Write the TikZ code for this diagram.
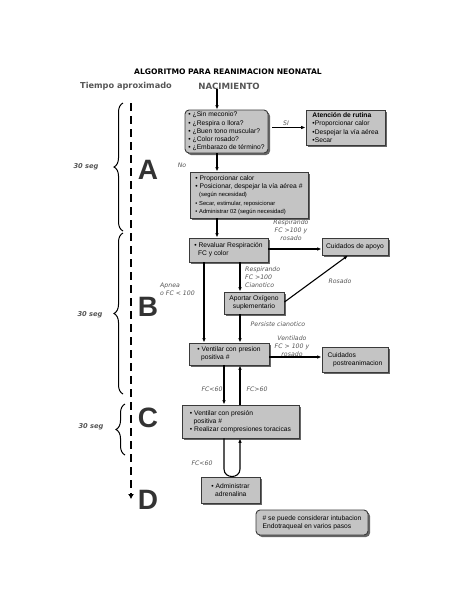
\documentclass[tikz,border=0pt]{standalone}
\usepackage{fontspec}
\setmainfont{Liberation Sans}
\newfontfamily\headfont{DejaVu Sans}
\usetikzlibrary{arrows.meta,shadows,decorations.pathreplacing}
\definecolor{boxgray}{HTML}{C4C4C4}
\definecolor{edgegray}{HTML}{3A3A3A}
\definecolor{textgray}{HTML}{555555}
\begin{document}
\begin{tikzpicture}[x=1pt, y=-1pt,
    every node/.style={font=\fontsize{6.7}{8.2}\selectfont, inner sep=0pt},
    box/.style={draw=edgegray, fill=boxgray, line width=0.9pt, align=left,
      drop shadow={shadow xshift=2pt, shadow yshift=-2pt, fill=black!60, opacity=1}},
    rbox/.style={box, rounded corners=4pt},
    lbl/.style={font=\headfont\fontsize{6.2}{7.8}\selectfont\itshape, text=textgray, align=center},
    arr/.style={-{Latex[length=4.5pt,width=3.6pt]}, line width=1.1pt},
    letter/.style={font=\fontsize{28}{28}\selectfont\bfseries, text=black!80},
    seg/.style={font=\headfont\fontsize{6.7}{7}\selectfont\bfseries\itshape, text=textgray},
    bracket/.style={decorate, decoration={brace, amplitude=9pt}, line width=1pt},
    timeline/.style={line width=2.4pt, dash pattern=on 8pt off 5pt, -{Latex[length=5pt,width=6pt]}}
  ]
    \useasboundingbox (0,0) rectangle (474,614);

    % Headings
    \node[font=\headfont\fontsize{7.6}{8}\selectfont\bfseries] (title) at (228,72) {ALGORITMO PARA REANIMACION NEONATAL};
    \node[font=\headfont\fontsize{8.2}{9}\selectfont\bfseries, text=textgray] (tiempo) at (126,86) {Tiempo aproximado};
    \node[font=\headfont\fontsize{8.6}{9}\selectfont\bfseries, text=textgray] (nac) at (229,86) {NACIMIENTO};

    % Time line
    \coordinate (ttop) at (131,103);
    \coordinate (tend) at (131,499);
    \draw[timeline] (ttop) -- (tend);

    % Braces
    \draw[bracket] (123,231) -- (123,103);
    \draw[bracket] (123,394) -- (123,233);
    \draw[bracket] (125,455) -- (125,404);
    \node[seg] (segA) at (86,167) {30 seg};
    \node[seg] (segB) at (90,315) {30 seg};
    \node[seg] (segC) at (91,427) {30 seg};

    % Letters
    \node[letter] (A) at (148,170) {A};
    \node[letter] (B) at (148,307) {B};
    \node[letter] (C) at (148,418) {C};
    \node[letter] (D) at (148,500) {D};

    % Block A
    \node[rbox, minimum width=83, minimum height=43] (preg) at (226.5,131.5)
      {• ¿Sin meconio?\\• ¿Respira o llora?\\• ¿Buen tono muscular?\\• ¿Color rosado?\\• ¿Embarazo de término?};
    \node[box, minimum width=79, minimum height=35] (rutina) at (345.5,127.5)
      {\textbf{Atención de rutina}\\•Proporcionar calor\\•Despejar la vía aérea\\•Secar};
    \node[box, minimum width=118, minimum height=46] (pasos) at (249,195)
      {• Proporcionar calor\\• Posicionar, despejar la vía aérea \#\\\ \ {\fontsize{5.8}{6.6}\selectfont(según necesidad)}\\{\fontsize{5.8}{7.4}\selectfont• Secar, estimular, reposicionar}\\{\fontsize{5.8}{7.4}\selectfont• Administrar 02 (según necesidad)}};

    % Block B
    \node[box, minimum width=79, minimum height=24] (revaluar) at (228.5,250)
      {• Revaluar Respiración\\\ \ FC y color};
    \node[box, minimum width=66, minimum height=17] (apoyo) at (355,246.5) {Cuidados de apoyo};
    \node[box, minimum width=60, minimum height=22, align=center] (oxigeno) at (254,303)
      {Aportar Oxígeno\\suplementario};
    \node[box, minimum width=80, minimum height=22] (ventilar) at (229,354)
      {• Ventilar con presion\\\ \ positiva \#};
    \node[box, minimum width=66, minimum height=25] (post) at (355,359.5)
      {Cuidados\\\ \ \ postreanimacion};

    % Block C and D
    \node[box, minimum width=117, minimum height=33] (compres) at (240.5,421.5)
      {• Ventilar con presión\\\ \ positiva \#\\• Realizar compresiones toracicas};
    \node[box, minimum width=59, minimum height=26] (adren) at (230.5,490)
      {• Administrar\\\ \ adrenalina};
    \node[rbox, minimum width=112, minimum height=25] (nota) at (312,522.5)
      {\# se puede considerar intubacion\\Endotraqueal en varios pasos};

    % Labels
    \node[lbl] (si) at (286,123) {SI};
    \node[lbl] (no) at (182,165) {No};
    \node[lbl] (resp1) at (291,230) {Respirando\\FC >100 y\\rosado};
    \node[lbl, align=left, anchor=west] (resp2) at (245,277) {Respirando\\FC >100\\Cianotico};
    \node[lbl] (rosado) at (340,281) {Rosado};
    \node[lbl, align=left, anchor=west] (apnea) at (160,289) {Apnea\\o FC < 100};
    \node[lbl] (persiste) at (278,324) {Persiste cianotico};
    \node[lbl] (ventilado) at (292,346) {Ventilado\\FC > 100 y\\rosado};
    \node[lbl] (fcm1) at (212,389) {FC<60};
    \node[lbl] (fcM) at (257,389) {FC>60};
    \node[lbl] (fcm2) at (202,463) {FC<60};

    % Connectors
    \coordinate (spine) at (217,0);
    \coordinate (left) at (204,0);
    \coordinate (mid) at (240,0);
    \coordinate (down) at (224,0);
    \draw[arr] (nac.south -| spine) -- (preg.north -| spine);
    \draw[arr] (preg.east |- rutina.west) ++(4,0) -- (rutina.west);
    \draw[arr] (preg.south -| spine) -- (pasos.north -| spine);
    \draw[arr] (pasos.south -| spine) -- (revaluar.north -| spine);
    \draw[arr] (revaluar.east |- 0,249) -- (apoyo.west |- 0,249);
    \draw[arr] (revaluar.south -| mid) -- (oxigeno.north -| mid);
    \draw[arr] (oxigeno.east |- 0,302) -- (apoyo.south -| 348,0);
    \draw[arr] (revaluar.south -| left) -- (ventilar.north -| left);
    \draw[arr] (oxigeno.south -| mid) -- (ventilar.north -| mid);
    \draw[arr] (ventilar.east |- 0,357) -- (post.west |- 0,357);
    \draw[arr] (ventilar.south -| down) -- (compres.north -| down);
    \draw[arr] (compres.north -| mid) -- (ventilar.south -| mid);
    \draw[arr] (compres.south -| down) -- (224,469) .. controls (224,479) and (240,479) .. (240,469) -- (compres.south -| mid);
  \end{tikzpicture}
\end{document}
